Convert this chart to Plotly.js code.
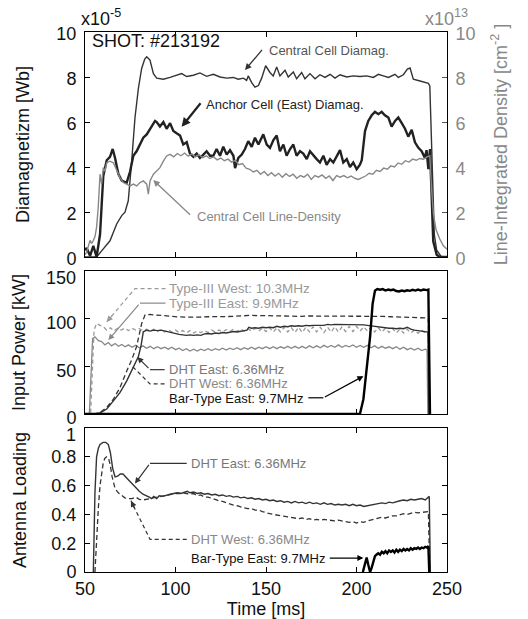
<!DOCTYPE html>
<html><head><meta charset="utf-8">
<script src="https://cdn.plot.ly/plotly-3.0.1.min.js"></script>
<style>html,body{margin:0;padding:0;background:#fff}#chart{width:528px;height:619px}</style>
</head><body><div id="chart"></div>
<script>
// ---------- Top panel: Diamagnetism & line density ----------
const ccDiamT = [50,56.4,60,63.8,67.5,70.3,72.1,73.9,75.8,77.6,79.5,81.3,83,84.1,85.9,87.8,89.6,93.3,97,100.6,103.4,106.2,109.9,113.5,117.2,120.9,124.6,128.3,131.9,134.7,137.5,139.3,140.2,142.1,143.9,145.8,147.6,149.8,152.2,154,155.9,157.7,160.5,162.3,165.1,166.9,169.7,171.5,174.3,177.1,179.8,182.6,185.4,188.1,190.9,194.6,198.2,201.9,205.6,209.3,212.1,214.8,217.6,221.3,223.1,225.9,228.1,229.6,231.4,235.1,239.7,240.5,241.7,243,244.3,247,250];
const ccDiamV = [0,0,0.35,0.72,1.47,1.84,1.99,2.5,4.26,6.18,7.5,8.38,8.8,8.9,8.75,8.15,7.95,7.9,7.98,8.08,8.15,8.02,8.08,8.18,8.03,8.12,8.0,7.95,7.98,7.9,7.95,7.85,8.05,7.75,7.55,7.62,7.95,8.5,8.2,8.05,8.45,8.05,8.3,8.0,8.22,7.92,8.2,7.92,8.15,7.92,8.1,7.98,8.12,7.95,8.1,8.0,8.05,8.02,8.05,7.98,8.12,8.05,7.98,8.12,7.98,8.1,8.35,8.4,7.9,7.82,7.72,7.6,4.0,1.0,0.3,0,0];

const anchorT = [50,50.9,52.8,54.6,56.4,58.3,60.1,62.0,63.8,65.3,66.6,68.4,70.3,73.0,74.9,76.7,78.5,80.4,82.2,84.1,86.8,88.7,89.6,91.4,93.3,95.1,97.0,98.8,100.6,102.5,104.3,106.2,108.0,109.9,111.7,113.5,115.4,117.2,119.1,120.9,122.7,124.6,126.4,128.3,130.1,132.0,132.9,134.7,136.6,138.4,140.2,142.1,143.9,145.8,148.5,150.4,152.2,154.1,155.9,157.7,159.6,161.4,163.3,165.1,166.9,168.8,170.6,172.5,174.3,176.2,178.0,179.8,181.7,183.5,185.4,187.2,189.0,190.9,192.7,194.6,196.4,198.2,200.1,201.9,202.9,204.7,206.5,208.4,210.2,212.1,213.9,215.7,217.6,219.4,221.3,223.1,225.0,226.8,228.6,230.5,232.3,234.2,236.0,237.8,238.7,239.7,240.6,241.5,242.4,244.3,246,250];
const anchorV = [0.3,0.4,0.05,0.5,0,1.0,3.6,4.3,4.45,4.8,4.4,3.7,3.4,3.3,3.8,4.5,4.7,5.0,5.3,5.45,5.8,6.05,6.0,5.8,6.0,5.7,5.95,5.6,5.5,5.4,5.0,5.1,4.6,4.45,4.6,4.4,4.55,4.7,4.5,4.5,4.8,4.5,4.9,4.55,4.75,4.5,3.95,4.4,4.55,4.8,5.15,4.9,5.3,5.0,5.45,5.0,4.85,5.2,5.4,4.7,5.0,4.5,4.8,5.0,4.5,4.7,4.6,4.35,4.7,4.5,4.35,4.2,4.5,4.1,4.35,4.2,4.5,4.75,4.2,4.35,4.0,4.2,3.9,4.1,4.3,5.6,6.05,6.3,6.45,6.35,6.45,6.3,6.2,5.8,6.05,6.2,5.95,5.7,5.35,5.65,5.1,4.85,4.7,4.4,4.75,3.9,4.8,2.5,0.7,0.1,0,0];

const densT = [50,50.9,52.8,53.7,54.6,55.5,56.4,57.3,58.3,59.2,60.1,61.0,62.0,63.8,65.7,67.5,69.3,71.2,73.0,74.9,76.7,78.5,80.4,82.2,84.1,85.0,85.9,87.8,89.6,91.4,93.3,95.1,97.0,99,101,103,105,107,109,111,113,115,117,119,121,123,125,127,129,131,133,135,137,139,141,143,145,147,149,151,153,155,157,159,161,163,165,167,169,171,173,175,177,179,181,183,185,187,189,191,193,195,197,199,201,203,205,207,209,211,213,215,217,219,221,223,225,227,229,231,233,235,237,239,240.5,241.5,242.5,244,246,248,250];
const densV = [0.1,0.22,0.74,0.6,0.74,0.9,1.32,2.2,3.68,3.24,3.97,3.8,4.19,4.26,4.19,3.82,3.53,3.31,3.24,3.16,3.24,3.16,3.31,3.38,3.24,2.79,3.38,3.68,3.82,3.97,4.26,4.49,4.56,4.45,4.6,4.5,4.62,4.48,4.58,4.45,4.55,4.42,4.5,4.38,4.45,4.32,4.4,4.28,4.35,4.22,4.3,4.1,4.15,3.95,3.9,3.78,3.85,3.68,3.8,3.62,3.75,3.6,3.72,3.55,3.7,3.58,3.68,3.5,3.62,3.55,3.68,3.45,3.62,3.55,3.65,3.5,3.6,3.4,3.62,3.55,3.62,3.52,3.6,3.5,3.45,3.52,3.6,3.72,3.68,3.85,3.8,3.95,3.9,4.05,4.0,4.18,4.12,4.28,4.22,4.35,4.3,4.38,4.35,4.45,4.5,3.0,1.9,1.2,0.8,0.5,0.35];

// ---------- Middle panel: input power [kW] ----------
const t3ET = [50,52.4,54.2,55.5,57.4,59.2,61,62.9,64.7,66.6,68.5,70.3,72.2,74,76,78,80,82,84,86,88,90,92,94,96,98,100,102,104,106,108,110,112,114,116,118,120,122,124,126,128,130,132,134,136,138,140,142,144,146,148,150,152,154,156,158,160,162,164,166,168,170,172,174,176,178,180,182,184,186,188,190,192,194,196,198,200,202,204,206,208,210,212,214,216,218,220,222,224,226,228,230,232,234,236,238,239,239.4];
const t3EV = [0,0,79,81,77,76,72.5,75,71.5,74,71,73,70.5,72.5,70,72,69.5,71.5,69,71,68.5,70.5,68.5,70,68,70,67.5,69,66.5,68.5,66,68,66,68,66.5,68.5,66.5,68.5,67,69,67,69,67.5,69.5,67.5,69.5,68,70,68,70,68.5,70.5,68.5,70.5,68.5,70.5,69,71,69,71,69,71,69,71.5,69.5,71.5,69.5,72,70,72,70,72.5,70,72,70.5,72.5,70,72,70,72,69.5,71.5,69,71,69,70.5,68.5,70.5,68,70,67.5,69,67,69,66.5,68,67,0];

const t3WT = [50,53.1,55,56.4,58.3,60.1,62,64,66,68,70,72,74,76,78,80,82,84,86,88,90,92,94,96,98,100,102,104,106,108,110,112,114,116,118,120,122,124,126,128,130,132,134,136,138,140,142,144,146,148,150,152,154,156,158,160,162,164,166,168,170,172,174,176,178,180,182,184,186,188,190,192,194,196,198,200,202,204,206,208,210,212,214,216,218,220,222,224,226,228,230,232,234,236,238,239.5,240];
const t3WV = [0,0,88,95,93,91.5,88,90.5,87,90,88,90,87.5,90,88,89.5,87.5,89,87,89,86.5,88.5,86,88.5,86,88,85.5,87.5,85,87.5,85,87,85.5,87.5,85.5,88,86,88,86,88.5,86.5,89,86.5,89,87,89.5,87,90,87,90,86.5,90.5,86,90.5,86,91,86,90.5,85.5,91,85.5,91,86,91.5,86,91,85.5,91,86,91.5,86,91.5,86.5,92,86.5,92,87,91.5,87,91,86,90.5,86,90,85.5,89.5,85,89,85,89,85,88,84.5,88,85,86,0];

const dhtET = [50,54.6,58.3,62,65.7,69.3,73,76.7,79.5,81,82.2,84.1,86,88,90,92,94,96,98,100,102,104,106,108,110,112,114,116,118,120,122,124,126,128,130,132,134,136,138,139.5,140.5,142,144,146,148,150,152,154,156,158,160,162,164,166,168,170,172,174,176,178,180,182,184,186,188,190,192,194,196,198,200,202,204,206,208,210,212,214,216,218,220,222,224,226,228,230,232,234,236,238,239.5,240];
const dhtEV = [0,0,1,5.2,13.8,22.4,34.5,48.3,60.3,72,86.2,87.9,87,88,87.5,88,87,86.5,85,84,83.5,83,82.5,83,82.5,83,82.5,84,84.5,84,85,84.5,85.5,85,86,86.5,86,87,87.5,88,91,90,90.5,90,91,90.5,91,90.5,92,91,92,91.5,92.5,92,92.5,92,93,92.5,93,93,93.5,93,94,93.5,94,94,93.5,94,94,94,93.5,94,93.5,93,92.5,91.5,91,90.5,90.5,90,90,89.5,90,89.5,91,89,88,87.5,87,86.5,86,0];

const dhtWT = [50,55.5,58.3,62,65.7,69.3,73,75.8,78.5,81.3,83.2,85.9,88,91.4,95,98.8,102,106.2,110,113.5,118,122.7,127,132,136,141.2,146,150.4,155,159.6,164,168.8,173,178,183,187.2,192,196.4,201,205.6,210,214.8,219,224,228,233.2,237,239.7,240.3];
const dhtWV = [0,0,1.7,6.9,15.5,27.6,44.8,56.9,70.7,94.8,104,104.5,104,103.4,102.8,102.4,101.8,101.7,101.5,101.7,102,102.4,102.2,102.4,103,103.4,103.2,103.4,103,102.8,102.5,102.4,102.8,102.8,102.5,102.8,102.5,102.4,102.5,102.4,102.2,102.4,102,101.7,101.3,100.7,100.6,100.7,0];

const barPT = [50,201.9,203.8,205.6,207.5,208.9,210.2,211.5,213,214.5,216,217.5,219,220.4,222,223.5,225,226.5,228,229.5,231,232.5,234,235.5,237,238.8,239.7,240.6];
const barPV = [0,0,15.5,46.6,81,115.5,129.3,131,130.3,131,129.5,130.5,129.8,130.5,129,128.5,129.5,128.8,129.8,129.2,130.2,129.5,130.5,129.5,130.5,130,130.5,0];

// ---------- Bottom panel: antenna loading ----------
const ldET = [54.6,55.5,56.4,57.4,58.3,60,61.5,62.9,64,65.3,66.6,68,69.5,71,72.5,74,76,78,80,82,84,85.5,86.8,88,89.6,91,93,95,97,99,101,103,105,106.5,108,110,112,114,116,118,120,122,124,126,128,130,132,134,136,138,140,142,144,146,148,150,152,154,156,158,160,162,164,166,168,170,172,174,176,178,180,182,184,186,188,190,192,194,196,198,200,202,204,206,208,210,212,214,216,218,220,222,224,226,228,230,232,234,236,238,239.7,240.2,240.8];
const ldEV = [0,0.55,0.8,0.86,0.885,0.9,0.9,0.885,0.83,0.72,0.66,0.665,0.68,0.68,0.66,0.64,0.61,0.58,0.56,0.54,0.53,0.52,0.51,0.525,0.51,0.53,0.525,0.535,0.54,0.545,0.55,0.545,0.555,0.56,0.55,0.555,0.545,0.55,0.54,0.545,0.535,0.54,0.53,0.535,0.525,0.53,0.52,0.525,0.515,0.52,0.51,0.515,0.505,0.51,0.5,0.505,0.495,0.5,0.49,0.495,0.485,0.49,0.48,0.49,0.48,0.485,0.475,0.485,0.475,0.48,0.47,0.48,0.47,0.475,0.465,0.47,0.465,0.47,0.46,0.47,0.46,0.465,0.455,0.46,0.465,0.47,0.475,0.48,0.475,0.485,0.48,0.49,0.495,0.5,0.495,0.505,0.5,0.505,0.51,0.5,0.52,0.525,0];

const ldWT = [55.5,56.4,57.4,58.3,59.2,60.1,61,62,63,64,65,66.6,68.4,70.3,72,74,76,78,80,82,84,86,88,90,92,94,96,98,100,102,104,106,108,110,112,114,116,118,120,122,124,126,128,130,132,134,136,138,140,142,144,146,148,150,152,154,156,158,160,162,164,166,168,170,172,174,176,178,180,182,184,186,188,190,192,194,196,198,200,202,204,206,208,210,212,214,216,218,220,222,224,226,228,230,232,234,236,238,239.7,240.5];
const ldWV = [0,0.25,0.45,0.6,0.7,0.76,0.79,0.8,0.79,0.74,0.66,0.58,0.55,0.53,0.515,0.51,0.51,0.52,0.505,0.5,0.505,0.51,0.52,0.52,0.53,0.535,0.54,0.54,0.545,0.545,0.55,0.545,0.54,0.545,0.53,0.535,0.52,0.52,0.51,0.505,0.495,0.49,0.48,0.475,0.465,0.46,0.45,0.445,0.44,0.44,0.43,0.43,0.42,0.41,0.405,0.4,0.395,0.39,0.39,0.385,0.38,0.375,0.37,0.375,0.365,0.37,0.36,0.365,0.36,0.365,0.36,0.36,0.355,0.36,0.355,0.35,0.345,0.35,0.34,0.35,0.345,0.355,0.36,0.365,0.37,0.38,0.375,0.385,0.39,0.39,0.4,0.405,0.4,0.41,0.415,0.41,0.415,0.42,0.42,0];

const ldBT = [203.5,204.7,205.6,206.5,207.5,208.4,209.3,210.2,211,212,213,214,215,216,217,218,219,220,221,222,223,224,225,226,227,228,229,230,231,232,233,234,235,236,237,238,239,239.7,240.2];
const ldBV = [0,0.06,0.1,0.05,0,0.03,0.08,0.11,0.12,0.13,0.12,0.14,0.13,0.145,0.13,0.15,0.14,0.15,0.135,0.155,0.14,0.155,0.145,0.16,0.15,0.16,0.15,0.165,0.155,0.165,0.16,0.17,0.16,0.17,0.165,0.175,0.17,0.18,0];

const xTicks = [50,100,150,200,250];
const topTicks = [0,2,4,6,8,10];
const midTicks = [0,50,100,150];
const midTickText = ['0','50','100',''];
const botTicks = [0,0.2,0.4,0.6,0.8,1];
const botTickText = ['0','0.2','0.4','0.6','0.8',''];

const F = 'Liberation Sans, Arial, Helvetica, sans-serif';

const traces = [
  {x:ccDiamT, y:ccDiamV, xaxis:'x', yaxis:'y', mode:'lines', line:{color:'#333', width:1.4}, name:'Central Cell Diamag.'},
  {x:anchorT, y:anchorV, xaxis:'x', yaxis:'y', mode:'lines', line:{color:'#222', width:2.4}, name:'Anchor Cell (East) Diamag.'},
  {x:densT, y:densV, xaxis:'x', yaxis:'y4', mode:'lines', line:{color:'#888', width:1.4}, name:'Central Cell Line-Density'},
  {x:t3WT, y:t3WV, xaxis:'x2', yaxis:'y2', mode:'lines', line:{color:'#999', width:1.3, dash:'4px,3px'}, name:'Type-III West: 10.3MHz'},
  {x:t3ET, y:t3EV, xaxis:'x2', yaxis:'y2', mode:'lines', line:{color:'#888', width:1.3}, name:'Type-III East: 9.9MHz'},
  {x:dhtWT, y:dhtWV, xaxis:'x2', yaxis:'y2', mode:'lines', line:{color:'#333', width:1.3, dash:'5px,3px'}, name:'DHT West: 6.36MHz'},
  {x:dhtET, y:dhtEV, xaxis:'x2', yaxis:'y2', mode:'lines', line:{color:'#333', width:1.4}, name:'DHT East: 6.36MHz'},
  {x:barPT, y:barPV, xaxis:'x2', yaxis:'y2', mode:'lines', line:{color:'#000', width:2.4}, name:'Bar-Type East: 9.7MHz'},
  {x:ldWT, y:ldWV, xaxis:'x3', yaxis:'y3', mode:'lines', line:{color:'#333', width:1.3, dash:'5px,3px'}, name:'DHT West: 6.36MHz'},
  {x:ldET, y:ldEV, xaxis:'x3', yaxis:'y3', mode:'lines', line:{color:'#333', width:1.4}, name:'DHT East: 6.36MHz'},
  {x:ldBT, y:ldBV, xaxis:'x3', yaxis:'y3', mode:'lines', line:{color:'#000', width:2.4}, name:'Bar-Type East: 9.7MHz'}
];

const tf = {family:F, size:18, color:'#111'};
const baseX = {range:[50,250], tickvals:xTicks, ticks:'inside', ticklen:5, tickwidth:1, tickcolor:'#000',
  showline:true, linecolor:'#000', linewidth:1, mirror:'ticks', zeroline:false, showgrid:false, tickfont:tf};
const baseY = {ticks:'inside', ticklen:5, tickwidth:1, tickcolor:'#000', showline:true, linecolor:'#000',
  linewidth:1, zeroline:false, showgrid:false, tickfont:tf, ticklabelstandoff:4};

const layout = {
  width:528, height:619, margin:{l:85, r:81, t:32, b:47}, showlegend:false,
  paper_bgcolor:'#fff', plot_bgcolor:'#fff', font:{family:F, color:'#111'},
  xaxis: Object.assign({}, baseX, {anchor:'y', showticklabels:false}),
  xaxis2: Object.assign({}, baseX, {anchor:'y2', showticklabels:false}),
  xaxis3: Object.assign({}, baseX, {anchor:'y3', title:{text:'Time [ms]', font:tf, standoff:2}}),
  yaxis: Object.assign({}, baseY, {domain:[0.5833,1], range:[0,10], tickvals:topTicks, mirror:true, ticklabelshift:2,
    title:{text:'Diamagnetizm [Wb]', font:tf, standoff:22}}),
  yaxis4: Object.assign({}, baseY, {overlaying:'y', side:'right', anchor:'x', range:[0,10], tickvals:topTicks,
    tickcolor:'#555', ticklabelshift:2, tickfont:{family:F, size:18, color:'#888'},
    title:{text:'Line-Integrated Density [cm<sup>-2</sup> ]', font:{family:F, size:18, color:'#888'}, standoff:19}}),
  yaxis2: Object.assign({}, baseY, {domain:[0.2926,0.5574], range:[0,150], tickvals:midTicks, ticktext:midTickText,
    mirror:'ticks', ticklabelshift:4, title:{text:'Input Power [kW]', font:tf, standoff:16}}),
  yaxis3: Object.assign({}, baseY, {domain:[0,0.2667], range:[0,1], tickvals:botTicks, ticktext:botTickText,
    mirror:'ticks', title:{text:'Antenna Loading', font:tf, standoff:20}}),
  shapes: [
    // middle panel leaders
    {type:'path', xref:'x2', yref:'y2', path:'M 94.5,131.5 L 77.6,131.5 L 62,96.6', line:{color:'#999', width:1.2, dash:'4px,3px'}},
    {type:'line', xref:'x2', yref:'y2', x0:94.5, y0:116.3, x1:80.4, y1:116.3, line:{color:'#888', width:1.2}},
    {type:'line', xref:'x2', yref:'y2', x0:94, y0:46.5, x1:85.9, y1:46.5, line:{color:'#333', width:1.2}},
    {type:'path', xref:'x2', yref:'y2', path:'M 94,31.5 L 85.9,31.5 L 75.8,50.7', line:{color:'#333', width:1.2, dash:'4px,3px'}},
    {type:'line', xref:'x2', yref:'y2', x0:173.4, y0:17, x1:181.7, y1:17, line:{color:'#000', width:1.2}},
    // bottom panel leaders
    {type:'line', xref:'x3', yref:'y3', x0:106.2, y0:0.754, x1:85.9, y1:0.754, line:{color:'#333', width:1.2}},
    {type:'path', xref:'x3', yref:'y3', path:'M 106.2,0.227 L 85.9,0.227 L 75.4,0.494', line:{color:'#333', width:1.2, dash:'4px,3px'}}
  ],
  annotations: [
    // top tick labels of the lower panels, set slightly below their ticks as in the reference
    {xref:'paper', yref:'y2', x:-0.0193, y:150, yshift:-7, xanchor:'right', yanchor:'middle', showarrow:false,
      text:'150', font:tf},
    {xref:'paper', yref:'y3', x:-0.0193, y:1, yshift:-7, xanchor:'right', yanchor:'middle', showarrow:false,
      text:'1', font:tf},
    {xref:'paper', yref:'paper', x:-0.017, y:1.026, xanchor:'left', yanchor:'middle', showarrow:false,
      text:'x10<sup>-5</sup>', font:tf},
    {xref:'paper', yref:'paper', x:0.934, y:1.026, xanchor:'left', yanchor:'middle', showarrow:false,
      text:'x10<sup>13</sup>', font:{family:F, size:18, color:'#888'}},
    {xref:'x', yref:'y', x:52.8, y:9.6, xanchor:'left', yanchor:'middle', showarrow:false,
      text:'SHOT: #213192', font:tf},
    {xref:'x', yref:'y', x:150.6, y:9.2, xanchor:'left', yanchor:'middle', showarrow:false,
      text:'Central Cell Diamag.', font:{family:F, size:13, color:'#555'}},
    {xref:'x', yref:'y', x:138.4, y:8.31, axref:'x', ayref:'y', ax:148.5, ay:9.27, text:'', showarrow:true,
      arrowhead:2, arrowsize:1, arrowwidth:1.3, arrowcolor:'#333'},
    {xref:'x', yref:'y', x:115.7, y:6.8, xanchor:'left', yanchor:'middle', showarrow:false,
      text:'Anchor Cell (East) Diamag.', font:{family:F, size:13, color:'#222'}},
    {xref:'x', yref:'y', x:103.4, y:5.79, axref:'x', ayref:'y', ax:114.5, ay:6.9, text:'', showarrow:true,
      arrowhead:2, arrowsize:0.8, arrowwidth:2.2, arrowcolor:'#222'},
    {xref:'x', yref:'y', x:110.8, y:1.82, xanchor:'left', yanchor:'middle', showarrow:false,
      text:'Central Cell Line-Density', font:{family:F, size:13, color:'#888'}},
    {xref:'x', yref:'y', x:87.7, y:3.42, axref:'x', ayref:'y', ax:108.9, ay:1.82, text:'', showarrow:true,
      arrowhead:2, arrowsize:1, arrowwidth:1.3, arrowcolor:'#888'},
    // middle
    {xref:'x2', yref:'y2', x:96, y:131.5, xanchor:'left', yanchor:'middle', showarrow:false, borderpad:0,
      text:'Type-III West: 10.3MHz', font:{family:F, size:13.5, color:'#999'}},
    {xref:'x2', yref:'y2', x:62, y:96.6, ax:6.5, ay:-7.6, text:'', showarrow:true,
      arrowhead:2, arrowsize:1, arrowwidth:1.2, arrowcolor:'#999'},
    {xref:'x2', yref:'y2', x:96, y:116.3, xanchor:'left', yanchor:'middle', showarrow:false, borderpad:0,
      text:'Type-III East: 9.9MHz', font:{family:F, size:13.5, color:'#999'}},
    {xref:'x2', yref:'y2', x:62.9, y:77.6, axref:'x2', ayref:'y2', ax:80.4, ay:116.3, text:'', showarrow:true,
      arrowhead:2, arrowsize:1, arrowwidth:1.2, arrowcolor:'#888'},
    {xref:'x2', yref:'y2', x:96, y:46.5, xanchor:'left', yanchor:'middle', showarrow:false, borderpad:0,
      text:'DHT East: 6.36MHz', font:{family:F, size:13, color:'#777'}},
    {xref:'x2', yref:'y2', x:78.9, y:59.7, axref:'x2', ayref:'y2', ax:85.9, ay:46.5, text:'', showarrow:true,
      arrowhead:2, arrowsize:1, arrowwidth:1.2, arrowcolor:'#333'},
    {xref:'x2', yref:'y2', x:96, y:31.5, xanchor:'left', yanchor:'middle', showarrow:false, borderpad:0,
      text:'DHT West: 6.36MHz', font:{family:F, size:13, color:'#888'}},
    {xref:'x2', yref:'y2', x:96, y:16.3, xanchor:'left', yanchor:'middle', showarrow:false, borderpad:0,
      text:'Bar-Type East: 9.7MHz', font:{family:F, size:13, color:'#111'}},
    {xref:'x2', yref:'y2', x:203.8, y:39.7, axref:'x2', ayref:'y2', ax:181.7, ay:17, text:'', showarrow:true,
      arrowhead:2, arrowsize:1, arrowwidth:1.2, arrowcolor:'#000'},
    // bottom
    {xref:'x3', yref:'y3', x:107.6, y:0.754, xanchor:'left', yanchor:'middle', showarrow:false,
      text:'DHT East: 6.36MHz', font:{family:F, size:13, color:'#777'}},
    {xref:'x3', yref:'y3', x:77.6, y:0.614, axref:'x3', ayref:'y3', ax:85.9, ay:0.754, text:'', showarrow:true,
      arrowhead:2, arrowsize:1, arrowwidth:1.2, arrowcolor:'#333'},
    {xref:'x3', yref:'y3', x:107.6, y:0.227, xanchor:'left', yanchor:'middle', showarrow:false,
      text:'DHT West: 6.36MHz', font:{family:F, size:13, color:'#888'}},
    {xref:'x3', yref:'y3', x:75.4, y:0.494, ax:4.4, ay:9, text:'', showarrow:true,
      arrowhead:2, arrowsize:1, arrowwidth:1.2, arrowcolor:'#333'},
    {xref:'x3', yref:'y3', x:107.6, y:0.097, xanchor:'left', yanchor:'middle', showarrow:false,
      text:'Bar-Type East: 9.7MHz', font:{family:F, size:13, color:'#111'}},
    {xref:'x3', yref:'y3', x:203.8, y:0.097, axref:'x3', ayref:'y3', ax:184.4, ay:0.097, text:'', showarrow:true,
      arrowhead:2, arrowsize:1, arrowwidth:1.2, arrowcolor:'#000'}
  ]
};

Plotly.newPlot('chart', traces, layout, {staticPlot:true, displayModeBar:false});
</script>
</body></html>
